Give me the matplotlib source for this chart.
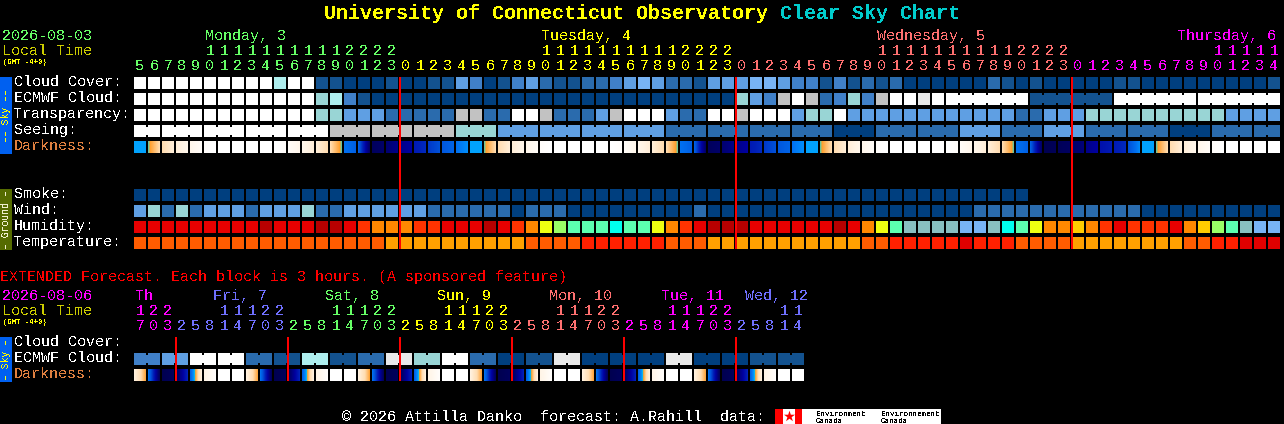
import matplotlib
matplotlib.use("Agg")
import matplotlib.pyplot as plt
import numpy as np
from matplotlib.colors import LinearSegmentedColormap

plt.rcParams['font.family'] = ['Liberation Mono', 'DejaVu Sans Mono']
plt.rcParams['text.antialiased'] = False

# sky levels, darkest blue to white
sky_colors = ['#003f7f', '#13528f', '#2a6bad', '#4080c8', '#5f9fe3', '#78b4f5',
              '#99d5d5', '#aeeeee', '#c2c2c2', '#e9e9e9', '#ffffff']
humid_colors = ['#b80000', '#e80000', '#ff3300', '#ff8800', '#ffcc00', '#eeff11',
                '#99ff66', '#5cffb0', '#00ffee', '#88c0c0', '#78b4f5']
temp_colors = ['#e00000', '#ff2000', '#ff5c00', '#ffa000']

GREEN = '#66ff66'
YELLOW = '#ffff00'
SALMON = '#ff7070'
MAGENTA = '#ff00ff'
PERI = '#7070ff'
OLIVE = '#cccc00'

cloud = [10, 10, 10, 10, 10, 10, 10, 10, 10, 10, 7, 10, 10, 1, 1, 0, 0, 0, 1, 0,
         0, 1, 1, 4, 3, 0, 1, 3, 4, 2, 1, 1, 2, 2, 3, 4, 5, 4, 2, 2,
         1, 4, 4, 4, 5, 5, 4, 3, 3, 1, 3, 1, 2, 1, 2, 0, 0, 0, 0, 0,
         0, 2, 1, 0, 1, 0, 0, 0, 0, 0, 1, 1, 0, 0, 0, 0, 0, 0, 0, 0, 0, 1]
ecmwf = [10, 10, 10, 10, 10, 10, 10, 10, 10, 10, 10, 10, 10, 6, 7, 3, 1, 0, 0, 0,
         0, 0, 0, 0, 0, 0, 0, 0, 0, 0, 0, 0, 0, 0, 0, 0, 0, 0, 0, 0,
         0, 0, 0, 6, 4, 3, 8, 10, 8, 2, 3, 6, 3, 8, 10, 10, 9, 10,
         10, 1, 10, 10]
ecmwf_sizes = [1] * 58 + [6, 6, 6, 6]
transparency = [10, 10, 10, 10, 10, 10, 10, 10, 10, 10, 10, 10, 10, 6, 6, 4, 4, 4, 2, 2,
                2, 2, 2, 8, 8, 2, 2, 10, 10, 8, 2, 2, 2, 4, 8, 10, 10, 10, 4, 2,
                2, 10, 10, 8, 10, 10, 10, 4, 6, 6, 10, 4, 4, 4, 4, 4, 4, 4, 4, 4,
                4, 4, 4, 2, 2, 4, 4, 4, 6, 6, 6, 6, 6, 6, 6, 6, 6, 6, 4, 4, 4, 4]
seeing = [10, 10, 10, 10, 10, 8, 8, 8, 6, 4, 4, 4, 4, 2, 2, 2, 2, 0,
          2, 2, 4, 2, 4, 2, 2, 0, 2, 2]
seeing_sizes = [2] + [3] * 26 + [2]
dark_left = [40, 37, 25, 14, 8, 2, 0, 0, 0, 0, 0, 3, 8, 14, 25, 50, 55, 95, 90, 85,
             72, 65, 58, 50, 40, 37, 25, 14, 8, 2, 0, 0, 0, 0, 0, 3, 8, 14, 25, 50,
             55, 95, 90, 85, 72, 65, 58, 50, 40, 37, 25, 14, 8, 2, 0, 0, 0, 0, 0, 3,
             8, 14, 25, 50, 55, 98, 96, 92, 85, 75, 72, 60, 40, 37, 25, 14, 8, 2, 0, 0, 0, 0]
dark_right = [40, 25, 14, 8, 3, 0, 0, 0, 0, 0, 2, 8, 14, 25, 37, 55, 92, 92, 85, 80,
              68, 60, 54, 44, 40, 25, 14, 8, 3, 0, 0, 0, 0, 0, 2, 8, 14, 25, 37, 55,
              92, 92, 85, 80, 68, 60, 54, 44, 40, 25, 14, 8, 3, 0, 0, 0, 0, 0, 2, 8,
              14, 25, 37, 55, 92, 96, 94, 88, 80, 72, 68, 45, 40, 25, 14, 8, 3, 0, 0, 0, 0, 0]
smoke = [0] * 64
wind = [4, 6, 2, 6, 2, 4, 4, 4, 2, 4, 4, 4, 6, 2, 2, 4, 4, 4, 4, 4,
        4, 2, 2, 2, 2, 2, 2, 0, 2, 2, 2, 0, 0, 0, 0, 0, 0, 0, 0, 0,
        2, 0, 0, 0, 0, 0, 0, 0, 0, 0, 0, 0, 0, 0, 0, 0, 0, 0, 0, 0,
        2, 2, 2, 2, 2, 2, 2, 2, 2, 2, 2, 2, 0, 0, 0, 0, 0, 0, 0, 0, 0, 0]
humidity = [1, 1, 1, 1, 1, 1, 1, 1, 1, 0, 1, 1, 1, 0, 0, 1, 2, 3, 3, 3,
            2, 2, 1, 1, 1, 0, 1, 2, 3, 5, 6, 7, 7, 7, 8, 7, 7, 5, 3, 2,
            1, 0, 0, 0, 1, 1, 1, 1, 1, 1, 0, 1, 3, 5, 7, 9, 9, 9, 9, 10,
            10, 9, 8, 7, 5, 3, 3, 4, 3, 2, 1, 2, 2, 2, 1, 3, 4, 6, 7, 9, 10, 10]
temperature = [2, 2, 2, 2, 2, 2, 2, 2, 2, 2, 2, 2, 2, 2, 2, 2, 2, 2, 3, 3,
               3, 3, 3, 3, 3, 3, 3, 3, 2, 2, 2, 2, 1, 1, 1, 1, 1, 1, 2, 2,
               2, 3, 3, 3, 3, 3, 3, 3, 3, 3, 3, 3, 2, 2, 1, 1, 1, 1, 1, 0,
               1, 1, 1, 2, 2, 2, 2, 3, 3, 3, 3, 3, 3, 3, 3, 2, 2, 1, 1, 0, 0, 0]

hours_tens = ("     11111111112222" "          11111111112222"
              "          11111111112222" "          11111")
hours_units = ("5678901234567890123" "012345678901234567890123"
               "012345678901234567890123" "012345678901234")
hour_spans = [(19, GREEN), (43, YELLOW), (67, SALMON), (82, MAGENTA)]
day_labels = ["Monday, 3", "Tuesday, 4", "Wednesday, 5", "Thursday, 6"]
day_label_x = [205, 541, 877, 1177]
row_names = ["Cloud Cover:", "ECMWF Cloud:", "Transparency:", "Seeing:", "Darkness:"]
ground_names = ["Smoke:", "Wind:", "Humidity:", "Temperature:"]

# extended forecast, 3 hour blocks
ext_ecmwf = [3, 4, 10, 10, 2, 1, 7, 1, 2, 9, 6, 10, 2, 0, 1, 9, 0, 0, 0, 9, 0, 0, 1, 1]
ext_dark_left = [12, 50, 98, 95, 55, 10, 0, 0, 12, 50, 98, 95, 55, 10, 0, 0,
                 12, 50, 98, 95, 55, 10, 0, 0, 12, 50, 98, 95, 55, 10, 0, 0,
                 12, 50, 98, 95, 55, 10, 0, 0, 12, 50, 98, 95, 55, 10, 0, 0]
ext_dark_right = [34, 95, 95, 70, 12, 2, 0, 0, 34, 95, 95, 70, 12, 2, 0, 0,
                  34, 95, 95, 70, 12, 2, 0, 0, 34, 95, 95, 70, 12, 2, 0, 0,
                  34, 95, 95, 70, 12, 2, 0, 0, 34, 95, 95, 70, 12, 2, 0, 0]
ext_tens = "122" + "   11122" + "   11122" + "   11122" + "   11122" + "   11122" + "   11"
ext_units = "703" + "25814703" * 5 + "25814"
ext_spans = [(3, MAGENTA), (11, PERI), (19, GREEN), (27, YELLOW), (35, SALMON), (43, MAGENTA), (48, PERI)]
ext_days = ["Th", "Fri, 7", "Sat, 8", "Sun, 9", "Mon, 10", "Tue, 11", "Wed, 12"]
ext_day_x = [135, 213, 325, 437, 549, 661, 745]
ext_day_colors = [MAGENTA, PERI, GREEN, YELLOW, SALMON, MAGENTA, PERI]

X0 = 134
PITCH = 14
BLOCK = 12
FS = 10.8  # 9 px wide mono

dark_cmap = LinearSegmentedColormap.from_list('darkness', [
    (0.00, '#ffffff'), (0.10, '#fff4e6'), (0.25, '#ffdcb0'), (0.35, '#ffa030'),
    (0.38, '#20d8d0'), (0.40, '#00a0ff'), (0.50, '#0070f0'), (0.60, '#0050d8'),
    (0.70, '#0020b8'), (0.80, '#0000a0'), (0.90, '#000070'), (1.00, '#000048')], N=512)

fig = plt.figure(figsize=(12.84, 4.24), dpi=100, facecolor='black')
ax = fig.add_axes([0, 0, 1, 1])
ax.set_xlim(0, 1284)
ax.set_ylim(424, 0)
ax.set_autoscale_on(False)
ax.axis('off')


def col_x(i):
    return X0 + i * PITCH


def draw_blocks(values, colors, top):
    for i, v in enumerate(values):
        ax.bar(col_x(i), BLOCK, width=BLOCK, bottom=top, align='edge', color=colors[v],
               linewidth=0, antialiased=False)


def draw_groups(values, sizes, colors, top):
    # runs of blocks joined by a narrower waist
    col = 0
    for v, n in zip(values, sizes):
        for k in range(n):
            ax.bar(col_x(col + k), BLOCK, width=BLOCK, bottom=top, align='edge',
                   color=colors[v], linewidth=0, antialiased=False)
            if k < n - 1:
                ax.bar(col_x(col + k) + BLOCK, BLOCK - 4, width=PITCH - BLOCK, bottom=top + 2,
                       align='edge', color=colors[v], linewidth=0, antialiased=False)
        col += n


def draw_darkness(left, right, top):
    # each block fades from its left to its right value
    for i, (a, b) in enumerate(zip(left, right)):
        xs = np.arange(BLOCK + 1) + col_x(i)
        shade = np.linspace(a, b, BLOCK)
        ax.pcolormesh(xs, [top, top + BLOCK], [shade], cmap=dark_cmap, vmin=0, vmax=100,
                      shading='flat', antialiased=False, linewidth=0)


def draw_digits(chars, spans, base):
    start = 0
    for end, color in spans:
        for i in range(start, end):
            if i < len(chars) and chars[i] != ' ':
                ax.text(col_x(i) + 6, base, chars[i], color=color, fontsize=FS,
                        ha='center', va='baseline')
        start = end


def label(x, base, s, color='white', size=FS, weight='normal'):
    ax.text(x, base, s, color=color, fontsize=size, ha='left', va='baseline', fontweight=weight)


def side_bar(top, bottom, color, text, text_color):
    ax.bar(0, bottom - top, width=12, bottom=top, align='edge', color=color, linewidth=0,
           antialiased=False)
    ax.text(6, (top + bottom) / 2, text, color=text_color, fontsize=7, rotation=90,
            ha='center', va='center')


# title
label(324, 19, "University of Connecticut Observatory", YELLOW, 14.4, 'bold')
label(780, 19, "Clear Sky Chart", '#00cccc', 14.4, 'bold')

# header
label(2, 40, "2026-08-03", GREEN)
label(2, 55, "Local Time", OLIVE)
label(3, 64, "(GMT -4+0)", YELLOW, 5.2)
for s, c, x in zip(day_labels, [GREEN, YELLOW, SALMON, MAGENTA], day_label_x):
    label(x, 40, s, c)
draw_digits(hours_tens, hour_spans, 55)
draw_digits(hours_units, hour_spans, 70)

# sky rows
tops = [77, 93, 109, 125, 141]
draw_blocks(cloud, sky_colors, tops[0])
draw_groups(ecmwf, ecmwf_sizes, sky_colors, tops[1])
draw_blocks(transparency, sky_colors, tops[2])
draw_groups(seeing, seeing_sizes, sky_colors, tops[3])
draw_darkness(dark_left, dark_right, tops[4])
for name, top in zip(row_names, tops):
    label(14, top + 9, name, '#e08040' if name == "Darkness:" else 'white')
side_bar(77, 154, '#0060f0', "\u2013\u2013 Sky \u2013\u2013", YELLOW)

# ground rows
ground_tops = [189, 205, 221, 237]
draw_blocks(smoke, sky_colors, ground_tops[0])
draw_blocks(wind, sky_colors, ground_tops[1])
draw_blocks(humidity, humid_colors, ground_tops[2])
draw_blocks(temperature, temp_colors, ground_tops[3])
for name, top in zip(ground_names, ground_tops):
    label(14, top + 9, name)
side_bar(189, 250, '#556b00', "\u2013 Ground \u2013", '#f0f0d0')

# midnight lines
ax.vlines([col_x(19), col_x(43), col_x(67)], 77, 249, color='#ff0000', linewidth=1.44,
          antialiased=False, zorder=5)

# extended forecast
label(0, 281, "EXTENDED Forecast. Each block is 3 hours. (A sponsored feature)", '#ff0000')
label(2, 300, "2026-08-06", MAGENTA)
label(2, 315, "Local Time", OLIVE)
label(3, 324, "(GMT -4+0)", YELLOW, 5.2)
for s, x, c in zip(ext_days, ext_day_x, ext_day_colors):
    label(x, 300, s, c)
draw_digits(ext_tens, ext_spans, 315)
draw_digits(ext_units, ext_spans, 330)
draw_groups(ext_ecmwf, [2] * 24, sky_colors, 353)
draw_darkness(ext_dark_left, ext_dark_right, 369)
for name, top in zip(["Cloud Cover:", "ECMWF Cloud:", "Darkness:"], [337, 353, 369]):
    label(14, top + 9, name, '#e08040' if name == "Darkness:" else 'white')
side_bar(337, 382, '#0060f0', "\u2013 Sky \u2013", YELLOW)
ax.vlines([col_x(j) for j in [3, 11, 19, 27, 35, 43]], 337, 381, color='#ff0000', linewidth=1.44,
          antialiased=False, zorder=5)

# footer
label(342, 421, "\u00a9 2026 Attilla Danko  forecast: A.Rahill  data:")
ax.bar(775, 15, width=166, bottom=409, align='edge', color='white', linewidth=0, antialiased=False)
ax.bar([775, 795], [15, 15], width=[8, 7], bottom=409, align='edge', color='#ff0000', linewidth=0,
       antialiased=False)
ax.scatter([789], [416], marker='*', s=70, color='#ff0000', linewidths=0)
for x, top, bottom in [(816, "Environment", "Canada"), (881, "Environnement", "Canada")]:
    ax.text(x, 416, top, color='black', fontsize=5.4, va='baseline')
    ax.text(x, 423, bottom, color='black', fontsize=5.4, va='baseline')

fig.savefig('out.png', dpi=100, facecolor='black')
